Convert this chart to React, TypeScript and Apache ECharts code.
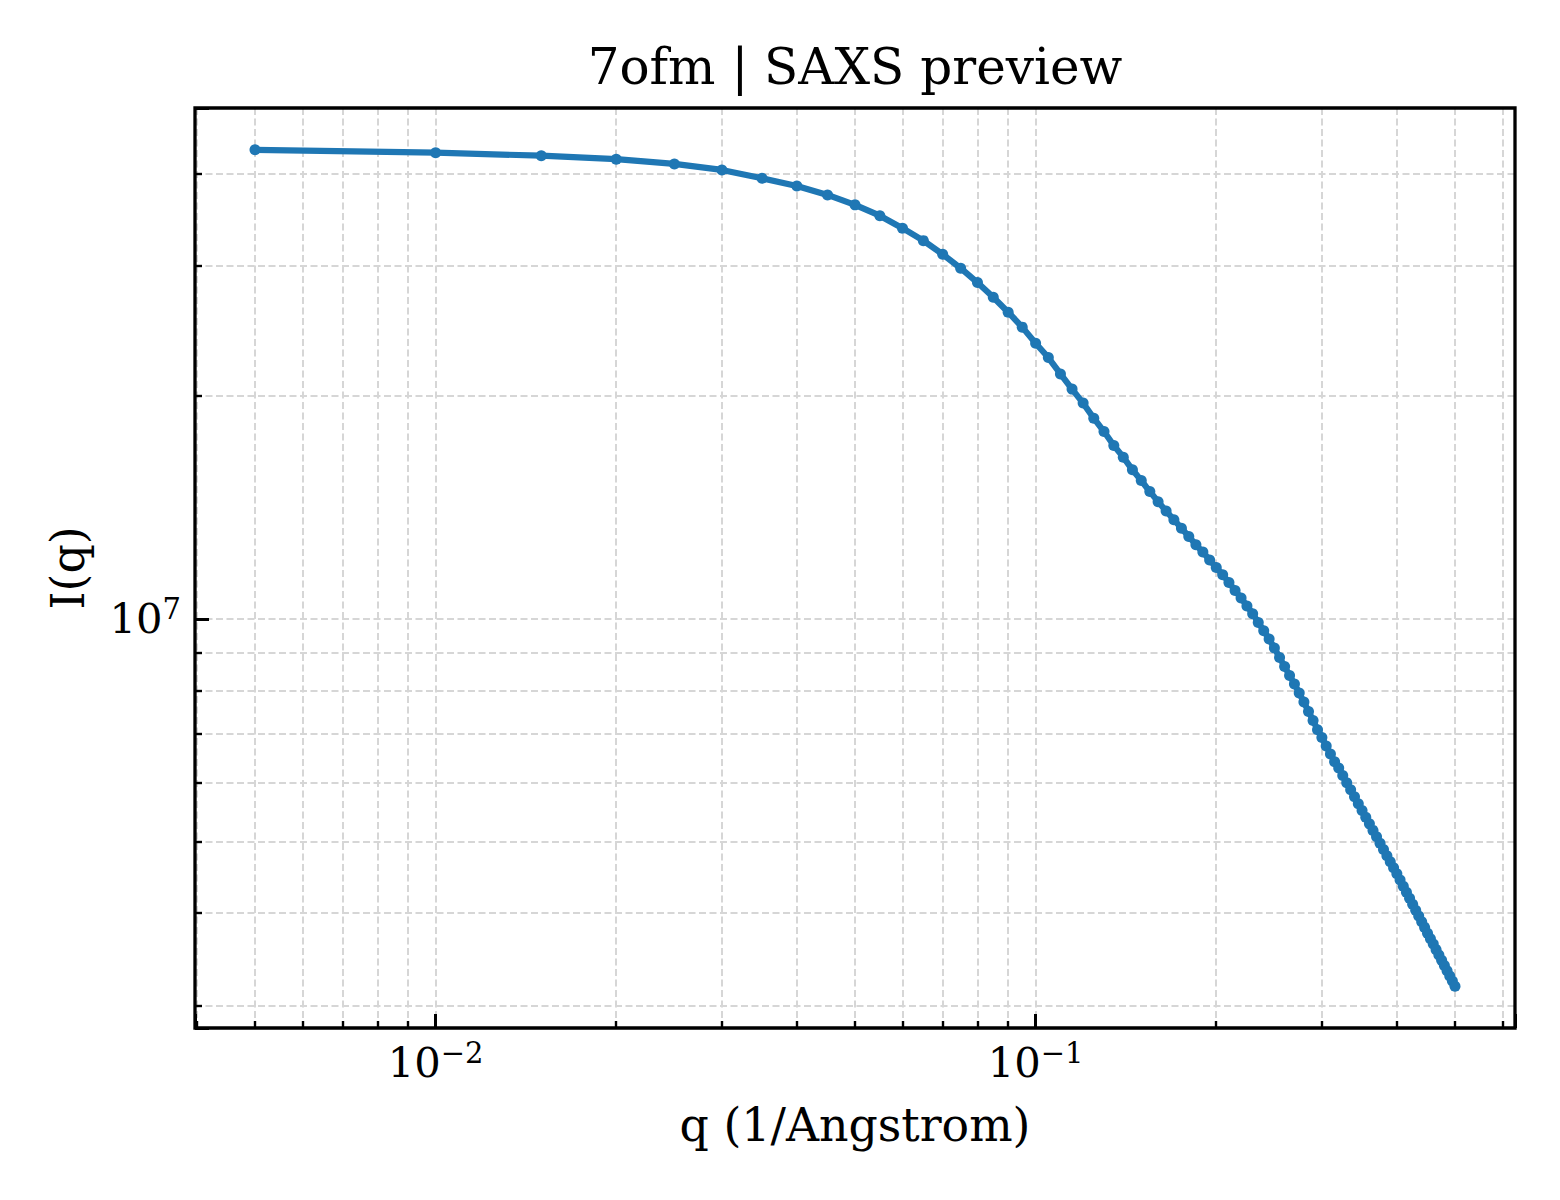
import { useEffect, useRef } from "react";
import * as echarts from "echarts";

const qValues = [
  0.005, 0.01, 0.015, 0.02, 0.025, 0.03, 0.035, 0.04, 0.045, 0.05,
  0.055, 0.06, 0.065, 0.07, 0.075, 0.08, 0.085, 0.09, 0.095, 0.1,
  0.105, 0.11, 0.115, 0.12, 0.125, 0.13, 0.135, 0.14, 0.145, 0.15,
  0.155, 0.16, 0.165, 0.17, 0.175, 0.18, 0.185, 0.19, 0.195, 0.2,
  0.205, 0.21, 0.215, 0.22, 0.225, 0.23, 0.235, 0.24, 0.245, 0.25,
  0.255, 0.26, 0.265, 0.27, 0.275, 0.28, 0.285, 0.29, 0.295, 0.3,
  0.305, 0.31, 0.315, 0.32, 0.325, 0.33, 0.335, 0.34, 0.345, 0.35,
  0.355, 0.36, 0.365, 0.37, 0.375, 0.38, 0.385, 0.39, 0.395, 0.4,
  0.405, 0.41, 0.415, 0.42, 0.425, 0.43, 0.435, 0.44, 0.445, 0.45,
  0.455, 0.46, 0.465, 0.47, 0.475, 0.48, 0.485, 0.49, 0.495, 0.5,
];

const intensity = [
  4.305e7, 4.267e7, 4.227e7, 4.181e7, 4.12e7, 4.044e7, 3.94e7, 3.847e7, 3.741e7, 3.627e7,
  3.507e7, 3.373e7, 3.245e7, 3.11e7, 2.978e7, 2.848e7, 2.721e7, 2.597e7, 2.479e7, 2.358e7,
  2.255e7, 2.143e7, 2.044e7, 1.957e7, 1.867e7, 1.791e7, 1.715e7, 1.654e7, 1.59e7, 1.538e7,
  1.486e7, 1.44e7, 1.399e7, 1.361e7, 1.326e7, 1.292e7, 1.259e7, 1.231e7, 1.201e7, 1.173e7,
  1.147e7, 1.12e7, 1.092e7, 1.067e7, 1.041e7, 1.016e7, 9.886e6, 9.634e6, 9.389e6, 9.129e6,
  8.866e6, 8.621e6, 8.384e6, 8.163e6, 7.936e6, 7.716e6, 7.494e6, 7.288e6, 7.079e6, 6.912e6,
  6.731e6, 6.567e6, 6.408e6, 6.285e6, 6.142e6, 6.005e6, 5.874e6, 5.746e6, 5.625e6, 5.507e6,
  5.393e6, 5.282e6, 5.176e6, 5.073e6, 4.974e6, 4.877e6, 4.784e6, 4.693e6, 4.607e6, 4.522e6,
  4.434e6, 4.35e6, 4.268e6, 4.189e6, 4.112e6, 4.037e6, 3.965e6, 3.894e6, 3.827e6, 3.759e6,
  3.695e6, 3.633e6, 3.571e6, 3.512e6, 3.455e6, 3.398e6, 3.344e6, 3.29e6, 3.238e6, 3.187e6,
];

const TITLE = "7ofm | SAXS preview";
const X_NAME = "q (1/Angstrom)";
const Y_NAME = "I(q)";

const FONT = '"DejaVu Serif", serif';
const BLUE = "#1f77b4";
const GRID_COLOR = "#d6d6d6";

// matplotlib-style 5% margin in log space
function logPadded(values: number[], frac = 0.05): [number, number] {
  const lo = Math.log10(Math.min(...values));
  const hi = Math.log10(Math.max(...values));
  const pad = (hi - lo) * frac;
  return [Math.pow(10, lo - pad), Math.pow(10, hi + pad)];
}

const powLabel = (v: number) => {
  const e = Math.log10(v);
  const r = Math.round(e);
  if (Math.abs(e - r) > 1e-6) return "";
  return `{b|10}{s|${r < 0 ? "\u2212" : ""}${Math.abs(r)}}`;
};

const labelRich = {
  b: { fontFamily: FONT, fontSize: 41.7, lineHeight: 48, color: "#000", verticalAlign: "middle" },
  s: { fontFamily: FONT, fontSize: 29, color: "#000", verticalAlign: "top" },
};

const gridLine = { color: GRID_COLOR, width: 2, type: [7, 3.5] };

export default function App() {
  const chartRef = useRef<HTMLDivElement>(null);

  useEffect(() => {
    if (!chartRef.current) return;
    const chart = echarts.init(chartRef.current, undefined, { renderer: "svg" });

    const [xMin, xMax] = logPadded(qValues);
    const [yMin, yMax] = logPadded(intensity);

    const axisCommon = {
      type: "log" as const,
      logBase: 10,
      axisLine: { show: false },
      axisTick: { show: true, inside: true, length: 14, lineStyle: { color: "#000", width: 3 } },
      minorTick: { show: true, splitNumber: 9, length: 7, lineStyle: { color: "#000", width: 2.4 } },
      splitLine: { show: true, lineStyle: gridLine },
      minorSplitLine: { show: true, lineStyle: gridLine },
    };

    const option: any = {
      animation: false,
      backgroundColor: "#fff",
      textStyle: { fontFamily: FONT },
      grid: { left: 195, top: 108, width: 1320, height: 920, outerBoundsMode: "none" },
      xAxis: {
        ...axisCommon,
        min: xMin,
        max: xMax,
        axisLabel: { margin: 10, formatter: powLabel, rich: labelRich },
      },
      yAxis: {
        ...axisCommon,
        min: yMin,
        max: yMax,
        axisLabel: { margin: 14, formatter: powLabel, rich: labelRich },
      },
      series: [
        {
          type: "line",
          data: qValues.map((q, i) => [q, intensity[i]]),
          symbol: "circle",
          symbolSize: 11,
          showSymbol: true,
          lineStyle: { color: BLUE, width: 6.2 },
          itemStyle: { color: BLUE, borderWidth: 0 },
          z: 3,
        },
      ],
      graphic: [
        {
          type: "rect",
          silent: true,
          z: 100,
          shape: { x: 195, y: 108, width: 1320, height: 920 },
          style: { fill: "none", stroke: "#000", lineWidth: 3.3 },
        },
        {
          type: "text",
          silent: true,
          x: 855,
          y: 67,
          style: {
            text: TITLE, fontFamily: FONT, fontSize: 50, fill: "#000",
            textAlign: "center", textVerticalAlign: "middle",
          },
        },
        {
          type: "text",
          silent: true,
          x: 855,
          y: 1125,
          style: {
            text: X_NAME, fontFamily: FONT, fontSize: 45.8, fill: "#000",
            textAlign: "center", textVerticalAlign: "middle",
          },
        },
        {
          type: "text",
          silent: true,
          x: 68,
          y: 568,
          rotation: Math.PI / 2,
          style: {
            text: Y_NAME, fontFamily: FONT, fontSize: 45.8, fill: "#000",
            textAlign: "center", textVerticalAlign: "middle",
          },
        },
      ],
    };

    chart.setOption(option);
    return () => chart.dispose();
  }, []);

  return (
    <div
      ref={chartRef}
      style={{ position: "absolute", left: 0, top: 0, width: 1560, height: 1200, background: "#fff" }}
    />
  );
}
